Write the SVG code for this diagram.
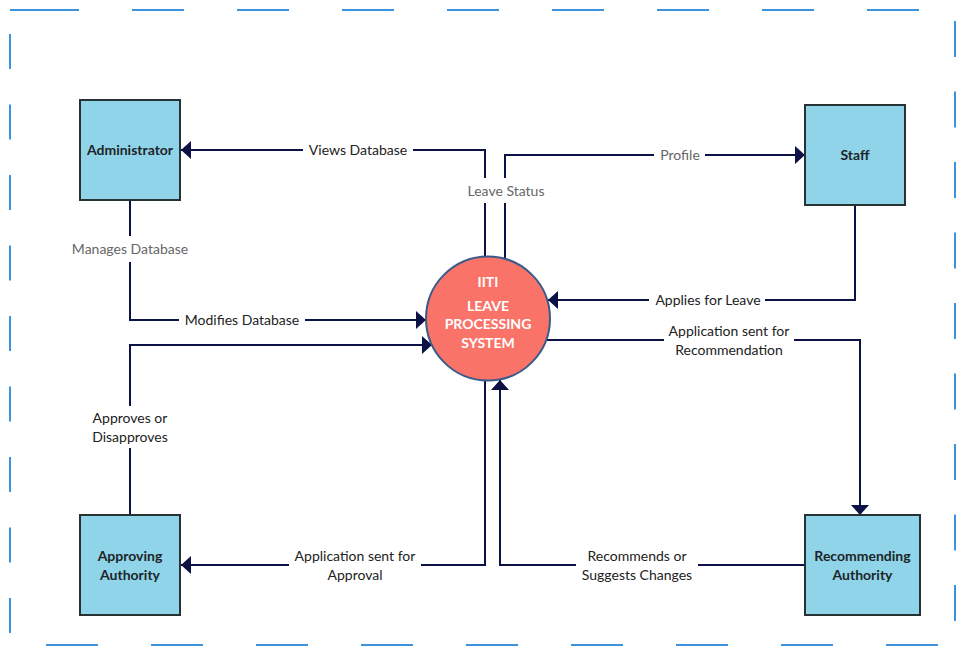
<svg xmlns="http://www.w3.org/2000/svg" width="965" height="655" viewBox="0 0 965 655">
<defs>
<marker id="arr" viewBox="0 0 10 18" refX="10" refY="9" markerWidth="10" markerHeight="18" markerUnits="userSpaceOnUse" orient="auto">
<path d="M0,0 L10,9 L0,18 z" fill="#0c1146"/>
</marker>
<style>
.border{stroke:#3a93dc;stroke-width:2;fill:none}
.box{fill:#8fd4e8;stroke:#263234;stroke-width:2}
.nl{font-family:Lato,"Liberation Sans",sans-serif;font-size:14px;font-weight:bold;fill:#1e2528;text-anchor:middle}
.cl{font-family:Lato,"Liberation Sans",sans-serif;font-size:14px;font-weight:bold;fill:#ffffff;text-anchor:middle}
.con{stroke:#0c1146;stroke-width:2;fill:none}
.arr{marker-end:url(#arr)}
.lbg{fill:#ffffff}
.lt{font-family:Lato,"Liberation Sans",sans-serif;font-size:14px;fill:#222222;text-anchor:middle}
.lg{font-family:Lato,"Liberation Sans",sans-serif;font-size:14px;fill:#666666;text-anchor:middle}
</style>
</defs>
<rect width="965" height="655" fill="#ffffff"/>
<g id="frame">
<line class="border" x1="10" y1="10" x2="79" y2="10"/>
<line class="border" x1="132" y1="10" x2="919" y2="10" stroke-dasharray="52 53"/>
<line class="border" x1="46" y1="645" x2="938" y2="645" stroke-dasharray="52 53"/>
<line class="border" x1="10" y1="34" x2="10" y2="633" stroke-dasharray="35 35.5"/>
<line class="border" x1="955" y1="21" x2="955" y2="621" stroke-dasharray="36 34.5"/>
</g>
<g id="connectors">
<polyline class="con arr" points="485,257 485,150 181,150"/>
<polyline class="con arr" points="505,259 505,155 805,155"/>
<polyline class="con arr" points="855,205 855,300 548,300"/>
<polyline class="con arr" points="546,340 860,340 860,515"/>
<polyline class="con arr" points="805,565 500,565 500,380"/>
<polyline class="con arr" points="485,380 485,565 181,565"/>
<polyline class="con arr" points="130,515 130,345 432,345"/>
<polyline class="con arr" points="130,200 130,320 426,320"/>
<rect class="lbg" x="303" y="141" width="110" height="18"/>
<text class="lt" x="358" y="155">Views Database</text>
<rect class="lbg" x="464" y="178" width="84" height="25"/>
<text class="lg" x="506" y="196">Leave Status</text>
<rect class="lbg" x="654" y="146" width="51" height="18"/>
<text class="lg" x="680" y="160">Profile</text>
<rect class="lbg" x="649" y="291" width="116" height="18"/>
<text class="lt" x="708" y="305">Applies for Leave</text>
<rect class="lbg" x="664" y="322" width="130" height="36"/>
<text class="lt" x="729" y="336">Application sent for</text>
<text class="lt" x="729" y="355">Recommendation</text>
<rect class="lbg" x="576" y="547" width="122" height="36"/>
<text class="lt" x="637" y="561">Recommends or</text>
<text class="lt" x="637" y="580">Suggests Changes</text>
<rect class="lbg" x="289" y="547" width="132" height="36"/>
<text class="lt" x="355" y="561">Application sent for</text>
<text class="lt" x="355" y="580">Approval</text>
<rect class="lbg" x="86" y="406" width="88" height="42"/>
<text class="lt" x="130" y="423">Approves or</text>
<text class="lt" x="130" y="442">Disapproves</text>
<rect class="lbg" x="68" y="236" width="124" height="26"/>
<text class="lg" x="130" y="254">Manages Database</text>
<rect class="lbg" x="179" y="311" width="126" height="18"/>
<text class="lt" x="242" y="325">Modifies Database</text>
</g>
<g id="administrator">
<rect class="box" x="80" y="100" width="100" height="100"/>
<text class="nl" x="130" y="155">Administrator</text>
</g>
<g id="staff">
<rect class="box" x="805" y="105" width="100" height="100"/>
<text class="nl" x="855" y="160">Staff</text>
</g>
<g id="approving-authority">
<rect class="box" x="80" y="515" width="100" height="100"/>
<text class="nl" x="130" y="561">Approving</text>
<text class="nl" x="130" y="580">Authority</text>
</g>
<g id="recommending-authority">
<rect class="box" x="805" y="515" width="115" height="100"/>
<text class="nl" x="862.5" y="561">Recommending</text>
<text class="nl" x="862.5" y="580">Authority</text>
</g>
<g id="leave-system">
<circle cx="488" cy="318.5" r="62" fill="#fa7369" stroke="#3a5a8a" stroke-width="2"/>
<text class="cl" x="488" y="287">IITI</text>
<text class="cl" x="488" y="311">LEAVE</text>
<text class="cl" x="488" y="329">PROCESSING</text>
<text class="cl" x="488" y="348">SYSTEM</text>
</g>
</svg>
